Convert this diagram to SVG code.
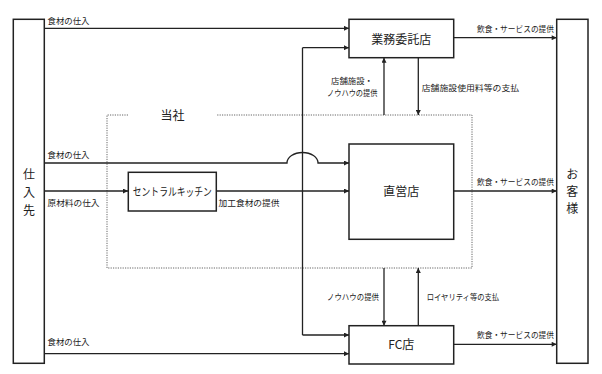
<svg xmlns="http://www.w3.org/2000/svg" width="602" height="374" viewBox="0 0 602 374">
<defs>
<marker id="ah" viewBox="0 0 10 10" refX="10" refY="5" markerWidth="5.5" markerHeight="5" orient="auto" markerUnits="userSpaceOnUse">
<path d="M0,0 L10,5 L0,10 z" fill="#222"/>
</marker>
<style>
text{font-family:"Meiryo UI","Noto Sans CJK JP","Noto Sans",sans-serif;fill:#222}
.box{fill:#fff;stroke:#222;stroke-width:1.5}
.ln{fill:none;stroke:#222;stroke-width:1.3}
.arr{fill:none;stroke:#222;stroke-width:1.3;marker-end:url(#ah)}
.lbl{font-size:8.5px}
.big{font-size:12px}
.dot{fill:none;stroke:#555;stroke-width:0.9;stroke-dasharray:1.2 1.2}
</style>
</defs>
<rect width="602" height="374" fill="#fff"/>

<g id="company">
<path class="dot" d="M128,115 H107 V268 H472 V115 H217"/>
<text class="big" x="172.5" y="120" text-anchor="middle">当社</text>
</g>

<g id="connectors">
<line class="arr" x1="44" y1="28.3" x2="349" y2="28.3"/>
<path class="arr" d="M44,163 H287 A15.5,10.5 0 0 1 318,163 H349"/>
<line class="arr" x1="44" y1="191" x2="128" y2="191"/>
<line class="arr" x1="216" y1="191" x2="349" y2="191"/>
<line class="arr" x1="44" y1="353.7" x2="349" y2="353.7"/>
<line class="ln" x1="302.5" y1="47.7" x2="302.5" y2="335"/>
<line class="arr" x1="302.5" y1="47.7" x2="349" y2="47.7"/>
<line class="arr" x1="302.5" y1="335" x2="349" y2="335"/>
<line class="arr" x1="384" y1="115" x2="384" y2="57.7"/>
<line class="arr" x1="418.3" y1="57.7" x2="418.3" y2="115"/>
<line class="arr" x1="384" y1="268" x2="384" y2="325.7"/>
<line class="arr" x1="418.3" y1="325.7" x2="418.3" y2="268"/>
<line class="arr" x1="453.7" y1="37.7" x2="556.7" y2="37.7"/>
<line class="arr" x1="453.7" y1="191" x2="556.7" y2="191"/>
<line class="arr" x1="453.7" y1="344.3" x2="556.7" y2="344.3"/>
</g>

<g id="labels">
<text class="lbl" x="47.5" y="23.5" textLength="42" lengthAdjust="spacingAndGlyphs">食材の仕入</text>
<text class="lbl" x="47.5" y="157.5" textLength="42" lengthAdjust="spacingAndGlyphs">食材の仕入</text>
<text class="lbl" x="47.5" y="206" textLength="52" lengthAdjust="spacingAndGlyphs">原材料の仕入</text>
<text class="lbl" x="47.5" y="345" textLength="42" lengthAdjust="spacingAndGlyphs">食材の仕入</text>
<text class="lbl" x="218.5" y="206" textLength="61" lengthAdjust="spacingAndGlyphs">加工食材の提供</text>
<text class="lbl" x="331" y="84" textLength="42" lengthAdjust="spacingAndGlyphs">店舗施設・</text>
<text class="lbl" x="327" y="96" textLength="50.5" lengthAdjust="spacingAndGlyphs">ノウハウの提供</text>
<text class="lbl" x="421.7" y="90.5" textLength="97.5" lengthAdjust="spacingAndGlyphs">店舗施設使用料等の支払</text>
<text class="lbl" x="327" y="300" textLength="52" lengthAdjust="spacingAndGlyphs">ノウハウの提供</text>
<text class="lbl" x="426.7" y="300" textLength="72.5" lengthAdjust="spacingAndGlyphs">ロイヤリティ等の支払</text>
<text class="lbl" x="477" y="32" textLength="77" lengthAdjust="spacingAndGlyphs">飲食・サービスの提供</text>
<text class="lbl" x="477" y="185" textLength="77" lengthAdjust="spacingAndGlyphs">飲食・サービスの提供</text>
<text class="lbl" x="477" y="338" textLength="77" lengthAdjust="spacingAndGlyphs">飲食・サービスの提供</text>
</g>

<g id="supplier">
<rect class="box" x="13.3" y="19.3" width="31" height="344"/>
<text class="big" x="29" y="178.5" text-anchor="middle">仕</text>
<text class="big" x="29" y="196.5" text-anchor="middle">入</text>
<text class="big" x="29" y="214.5" text-anchor="middle">先</text>
</g>

<g id="customer">
<rect class="box" x="556.7" y="19.3" width="31.3" height="344"/>
<text class="big" x="572.3" y="179" text-anchor="middle">お</text>
<text class="big" x="572.3" y="196" text-anchor="middle">客</text>
<text class="big" x="572.3" y="213" text-anchor="middle">様</text>
</g>

<g id="outsourced">
<rect class="box" x="349" y="19.3" width="104.7" height="38.4"/>
<text class="big" x="401.3" y="43.5" text-anchor="middle">業務委託店</text>
</g>

<g id="direct">
<rect class="box" x="349" y="144" width="104.7" height="95.3"/>
<text class="big" x="401.3" y="196" text-anchor="middle">直営店</text>
</g>

<g id="fc">
<rect class="box" x="349" y="325.7" width="104.7" height="38.3"/>
<text class="big" x="401.3" y="348.5" text-anchor="middle">FC店</text>
</g>

<g id="kitchen">
<rect class="box" x="128.3" y="172.3" width="88" height="38.7"/>
<text x="172.3" y="195.5" text-anchor="middle" font-size="11" textLength="79" lengthAdjust="spacingAndGlyphs">セントラルキッチン</text>
</g>
</svg>
